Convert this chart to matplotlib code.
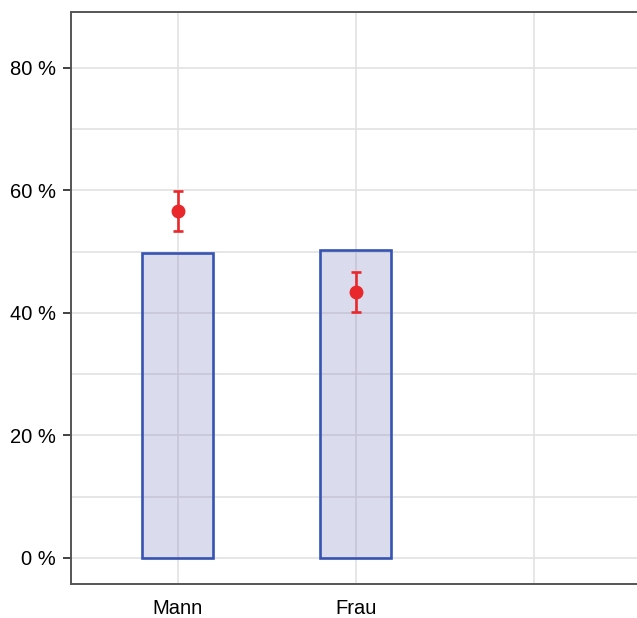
import matplotlib
matplotlib.use("Agg")
import matplotlib.pyplot as plt
from matplotlib.ticker import FuncFormatter, MultipleLocator

plt.rcParams['font.family'] = ['Liberation Sans', 'DejaVu Sans']

categories = ["Mann", "Frau", ""]
bar_values = [49.7, 50.3]
point_values = [56.6, 43.4]
point_errors = [3.3, 3.3]
y_ticks = [0, 20, 40, 60, 80]

W, H, DPI = 637, 618, 100
fig = plt.figure(figsize=(W / DPI, H / DPI), dpi=DPI)

left_px, top_px, bottom_px = 71, 12, 584
x_min, x_max = -0.6, 2.6
px_per_cat = 178
width_px = (x_max - x_min) * px_per_cat
ax = fig.add_axes([left_px / W, 1 - bottom_px / H, width_px / W, (bottom_px - top_px) / H])

xpos = list(range(len(categories)))

ax.bar(xpos[:len(bar_values)], bar_values, width=0.40,
       facecolor=(0.50, 0.50, 0.76, 0.28), edgecolor="#3653b3",
       linewidth=1.9, zorder=2)

ax.errorbar(xpos[:len(point_values)], point_values, yerr=point_errors,
            fmt="o", color="#e8282b", ecolor="#e8282b", markersize=9,
            elinewidth=1.9, capsize=3.8, capthick=1.9, zorder=3)

ax.set_xlim(x_min, x_max)
ax.set_ylim(-4.25, 89.1)
ax.set_xticks(xpos)
ax.set_xticklabels(categories, fontsize=14.5)
ax.set_yticks(y_ticks)
ax.yaxis.set_major_formatter(FuncFormatter(lambda v, p: f"{v:.0f} %"))
ax.yaxis.set_minor_locator(MultipleLocator(10))
ax.tick_params(axis="y", which="major", length=6, width=1.3, color="#333333",
               labelsize=14.5, pad=5)
ax.tick_params(axis="y", which="minor", length=0)
ax.tick_params(axis="x", length=0, pad=11)

ax.grid(True, which="both", axis="y", color="#e2e2e2", linewidth=1.2, zorder=0)
ax.grid(True, which="major", axis="x", color="#e2e2e2", linewidth=1.2, zorder=0)
ax.set_axisbelow(True)

for side in ("left", "bottom", "top"):
    ax.spines[side].set_color("#555555")
    ax.spines[side].set_linewidth(1.4)
ax.spines["right"].set_visible(False)

fig.savefig("out.png", dpi=DPI)
